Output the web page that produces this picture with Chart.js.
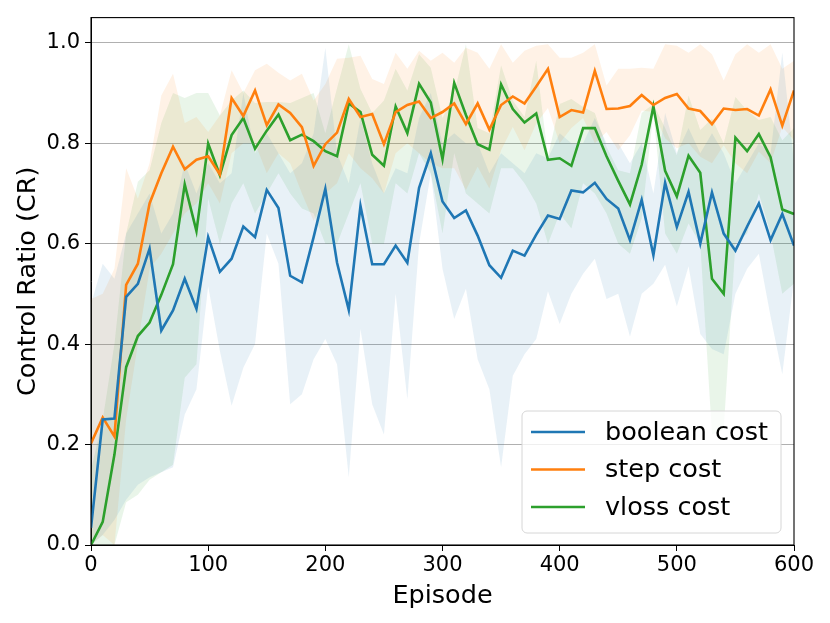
<!DOCTYPE html>
<html>
<head>
<meta charset="utf-8">
<script src="https://cdn.jsdelivr.net/npm/chart.js@4.4.1/dist/chart.umd.min.js"></script>
<style>
  html, body { margin: 0; padding: 0; background: #fff; }
  #wrap { width: 830px; height: 623px; }
</style>
</head>
<body>
<div id="wrap"><canvas id="chart"></canvas></div>
<script>
// episodes (x)
const episodes = [0, 10, 20, 30, 40, 50, 60, 70, 80, 90,
  100, 110, 120, 130, 140, 150, 160, 170, 180, 190,
  200, 210, 220, 230, 240, 250, 260, 270, 280, 290,
  300, 310, 320, 330, 340, 350, 360, 370, 380, 390,
  400, 410, 420, 430, 440, 450, 460, 470, 480, 490,
  500, 510, 520, 530, 540, 550, 560, 570, 580, 590, 600];

// mean curves
const booleanCost = [0.034, 0.25, 0.252, 0.494, 0.52, 0.59, 0.427, 0.467, 0.53, 0.47,
  0.613, 0.544, 0.57, 0.634, 0.613, 0.707, 0.671, 0.536, 0.523, 0.613,
  0.709, 0.562, 0.468, 0.675, 0.559, 0.559, 0.596, 0.562, 0.711, 0.78,
  0.684, 0.651, 0.666, 0.616, 0.557, 0.532, 0.586, 0.576, 0.618, 0.656,
  0.649, 0.706, 0.702, 0.721, 0.689, 0.67, 0.607, 0.687, 0.577, 0.721,
  0.633, 0.703, 0.6, 0.702, 0.62, 0.586, 0.634, 0.68, 0.607, 0.659, 0.596];
const stepCost = [0.202, 0.254, 0.216, 0.518, 0.56, 0.68, 0.74, 0.793, 0.748, 0.767,
  0.774, 0.738, 0.89, 0.854, 0.905, 0.836, 0.877, 0.86, 0.832, 0.755,
  0.798, 0.821, 0.888, 0.852, 0.858, 0.798, 0.862, 0.876, 0.883, 0.85,
  0.862, 0.879, 0.838, 0.879, 0.827, 0.876, 0.893, 0.879, 0.913, 0.948,
  0.852, 0.866, 0.861, 0.944, 0.868, 0.869, 0.874, 0.896, 0.876, 0.89,
  0.898, 0.869, 0.864, 0.838, 0.869, 0.866, 0.868, 0.855, 0.907, 0.835, 0.905];
const vlossCost = [0, 0.046, 0.18, 0.354, 0.416, 0.443, 0.498, 0.559, 0.718, 0.625,
  0.799, 0.736, 0.816, 0.85, 0.789, 0.825, 0.857, 0.806, 0.817, 0.804,
  0.784, 0.774, 0.879, 0.862, 0.777, 0.755, 0.873, 0.82, 0.918, 0.881,
  0.768, 0.92, 0.856, 0.798, 0.787, 0.917, 0.868, 0.841, 0.859, 0.767,
  0.77, 0.755, 0.83, 0.83, 0.774, 0.725, 0.678, 0.757, 0.873, 0.745,
  0.694, 0.775, 0.741, 0.53, 0.5, 0.811, 0.784, 0.818, 0.772, 0.668, 0.659];

// shaded bands (upper / lower)
const booleanUpper = [0.48, 0.56, 0.53, 0.62, 0.66, 0.7, 0.62, 0.66, 0.76, 0.7,
  0.76, 0.72, 0.74, 0.9, 0.78, 0.82, 0.78, 0.74, 0.76, 0.82,
  0.99, 0.78, 0.72, 0.85, 0.76, 0.7, 0.75, 0.74, 0.85, 0.9,
  0.8, 0.82, 0.8, 0.8, 0.74, 0.78, 0.76, 0.74, 0.78, 0.77,
  0.82, 0.8, 0.8, 0.85, 0.8, 0.8, 0.76, 0.8, 0.7, 0.86,
  0.78, 0.83, 0.78, 0.82, 0.78, 0.72, 0.76, 0.8, 0.78, 0.98, 0.76];
const booleanLower = [0, 0.02, 0.05, 0.09, 0.12, 0.135, 0.145, 0.155, 0.26, 0.31,
  0.515, 0.386, 0.277, 0.353, 0.4, 0.62, 0.56, 0.28, 0.3, 0.37,
  0.41, 0.36, 0.135, 0.43, 0.28, 0.22, 0.5, 0.29, 0.6, 0.74,
  0.55, 0.45, 0.51, 0.37, 0.31, 0.155, 0.337, 0.38, 0.41, 0.505,
  0.44, 0.5, 0.54, 0.57, 0.49, 0.5, 0.415, 0.5, 0.52, 0.558,
  0.475, 0.555, 0.42, 0.39, 0.38, 0.5, 0.55, 0.58, 0.455, 0.34, 0.53];
const stepUpper = [0.49, 0.5, 0.55, 0.75, 0.69, 0.76, 0.895, 0.938, 0.84, 0.852,
  0.822, 0.855, 0.945, 0.9, 0.945, 0.958, 0.94, 0.925, 0.938, 0.885,
  0.918, 0.968, 0.97, 0.974, 0.928, 0.918, 0.98, 0.948, 0.984, 0.964,
  0.98, 0.96, 0.99, 0.98, 0.948, 0.997, 0.96, 0.984, 0.994, 0.997,
  0.97, 0.97, 0.98, 0.997, 0.915, 0.948, 0.948, 0.95, 0.948, 0.997,
  0.994, 0.98, 0.997, 0.977, 0.925, 0.977, 0.997, 0.98, 0.997, 0.948, 0.964];
const stepLower = [0, 0.02, 0, 0.25, 0.4, 0.55, 0.58, 0.62, 0.66, 0.68,
  0.72, 0.68, 0.78, 0.8, 0.8, 0.74, 0.78, 0.76, 0.7, 0.645,
  0.7, 0.72, 0.78, 0.75, 0.73, 0.7, 0.78, 0.8, 0.78, 0.76,
  0.75, 0.75, 0.707, 0.753, 0.71, 0.786, 0.832, 0.786, 0.839, 0.87,
  0.8, 0.83, 0.85, 0.8, 0.822, 0.786, 0.816, 0.865, 0.862, 0.81,
  0.79, 0.8, 0.773, 0.76, 0.796, 0.76, 0.74, 0.783, 0.76, 0.832, 0.806];
const vlossUpper = [0.15, 0.25, 0.4, 0.62, 0.723, 0.746, 0.84, 0.9, 0.89, 0.9,
  0.9, 0.855, 0.885, 0.905, 0.88, 0.882, 0.882, 0.88, 0.89, 0.9,
  0.82, 0.91, 0.997, 0.908, 0.86, 0.885, 0.948, 0.905, 0.977, 0.95,
  0.85, 0.9, 0.997, 0.83, 0.82, 0.955, 0.885, 0.852, 0.964, 0.773,
  0.878, 0.888, 0.872, 0.86, 0.793, 0.746, 0.74, 0.86, 0.878, 0.83,
  0.776, 0.895, 0.826, 0.849, 0.8, 0.892, 0.865, 0.846, 0.852, 0.806, 0.83];
const vlossLower = [0, 0, 0, 0.085, 0.1, 0.13, 0.145, 0.16, 0.333, 0.36,
  0.69, 0.6, 0.68, 0.72, 0.66, 0.7, 0.74, 0.7, 0.67, 0.66,
  0.6, 0.6, 0.66, 0.72, 0.6, 0.6, 0.72, 0.7, 0.78, 0.74,
  0.62, 0.78, 0.7, 0.68, 0.66, 0.75, 0.75, 0.72, 0.68, 0.6,
  0.66, 0.63, 0.72, 0.7, 0.66, 0.6, 0.58, 0.65, 0.86, 0.62,
  0.58, 0.64, 0.6, 0.22, 0.23, 0.6, 0.62, 0.7, 0.62, 0.5, 0.52];

const seriesNames = ["boolean cost", "step cost", "vloss cost"];
const seriesColors = ["#1f77b4", "#ff7f0e", "#2ca02c"];
const bandColors = ["rgba(31,119,180,0.1)", "rgba(255,127,14,0.1)", "rgba(44,160,44,0.1)"];
const yTicks = [0, 0.2, 0.4, 0.6, 0.8, 1.0];

const pts = (ys) => episodes.map((x, i) => ({ x: x, y: ys[i] }));

function bandPair(upper, lower, color) {
  return [
    { data: pts(upper), fill: "+1", backgroundColor: color, borderWidth: 0, pointRadius: 0, order: 2 },
    { data: pts(lower), fill: false, borderWidth: 0, pointRadius: 0, order: 2 },
  ];
}

function lineSet(ys, i) {
  return {
    label: seriesNames[i],
    data: pts(ys),
    borderColor: seriesColors[i],
    borderWidth: 2.6,
    pointRadius: 0,
    fill: false,
    tension: 0,
    order: 0,
  };
}

// full box around the plot area, like matplotlib spines
const frame = {
  id: "frame",
  afterDatasetsDraw(chart) {
    const a = chart.chartArea, c = chart.ctx;
    c.save();
    c.strokeStyle = "#000";
    c.lineWidth = 1.1;
    c.strokeRect(a.left, a.top, a.right - a.left, a.bottom - a.top);
    c.restore();
  },
};

// legend inside the axes, lower right
const innerLegend = {
  id: "innerLegend",
  afterDraw(chart) {
    const c = chart.ctx;
    const x = 522, y = 411, w = 259, h = 122, r = 5;
    c.save();
    c.beginPath();
    c.roundRect(x, y, w, h, r);
    c.fillStyle = "rgba(255,255,255,0.8)";
    c.fill();
    c.strokeStyle = "#d6d6d6";
    c.lineWidth = 1;
    c.stroke();
    const rows = [432, 469.5, 507];
    c.font = "25.5px 'DejaVu Sans'";
    c.textBaseline = "middle";
    seriesNames.forEach((name, i) => {
      c.strokeStyle = seriesColors[i];
      c.lineWidth = 2.6;
      c.beginPath();
      c.moveTo(531, rows[i]);
      c.lineTo(585, rows[i]);
      c.stroke();
      c.fillStyle = "#000";
      c.fillText(name, 605, rows[i] + 1);
    });
    c.restore();
  },
};

Chart.defaults.font.family = "'DejaVu Sans', sans-serif";
Chart.defaults.color = "#000";

const chart = new Chart(document.getElementById("chart"), {
  type: "line",
  data: {
    datasets: [
      ...bandPair(booleanUpper, booleanLower, bandColors[0]),
      ...bandPair(stepUpper, stepLower, bandColors[1]),
      ...bandPair(vlossUpper, vlossLower, bandColors[2]),
      lineSet(booleanCost, 0),
      lineSet(stepCost, 1),
      lineSet(vlossCost, 2),
    ],
  },
  options: {
    responsive: true,
    maintainAspectRatio: false,
    animation: false,
    layout: { padding: { top: 15, right: 36, left: 0, bottom: 0 } },
    plugins: {
      legend: { display: false },
      tooltip: { enabled: false },
    },
    scales: {
      x: {
        type: "linear",
        min: 0,
        max: 600,
        ticks: { stepSize: 100, font: { size: 21 }, padding: 2, maxRotation: 0 },
        grid: { drawOnChartArea: false, tickLength: 6, tickColor: "#000" },
        border: { color: "#000", width: 1 },
        title: { display: true, text: "Episode", font: { size: 25.5 }, padding: { top: 0, bottom: 11 } },
        afterFit(scale) { scale.height = 78; },
      },
      y: {
        min: 0,
        max: 1.05,
        ticks: {
          stepSize: 0.2,
          font: { size: 21 },
          padding: 5,
          callback: (v) => v.toFixed(1),
        },
        afterBuildTicks(scale) {
          scale.ticks = yTicks.map((v) => ({ value: v }));
        },
        grid: { color: "#b0b0b0", lineWidth: 1, tickLength: 6, tickColor: "#000" },
        border: { color: "#000", width: 1 },
        title: { display: true, text: "Control Ratio (CR)", font: { size: 25.5 }, padding: { top: 13, bottom: 0 } },
        afterFit(scale) { scale.width = 91; },
      },
    },
  },
  plugins: [frame, innerLegend],
});
</script>
</body>
</html>
